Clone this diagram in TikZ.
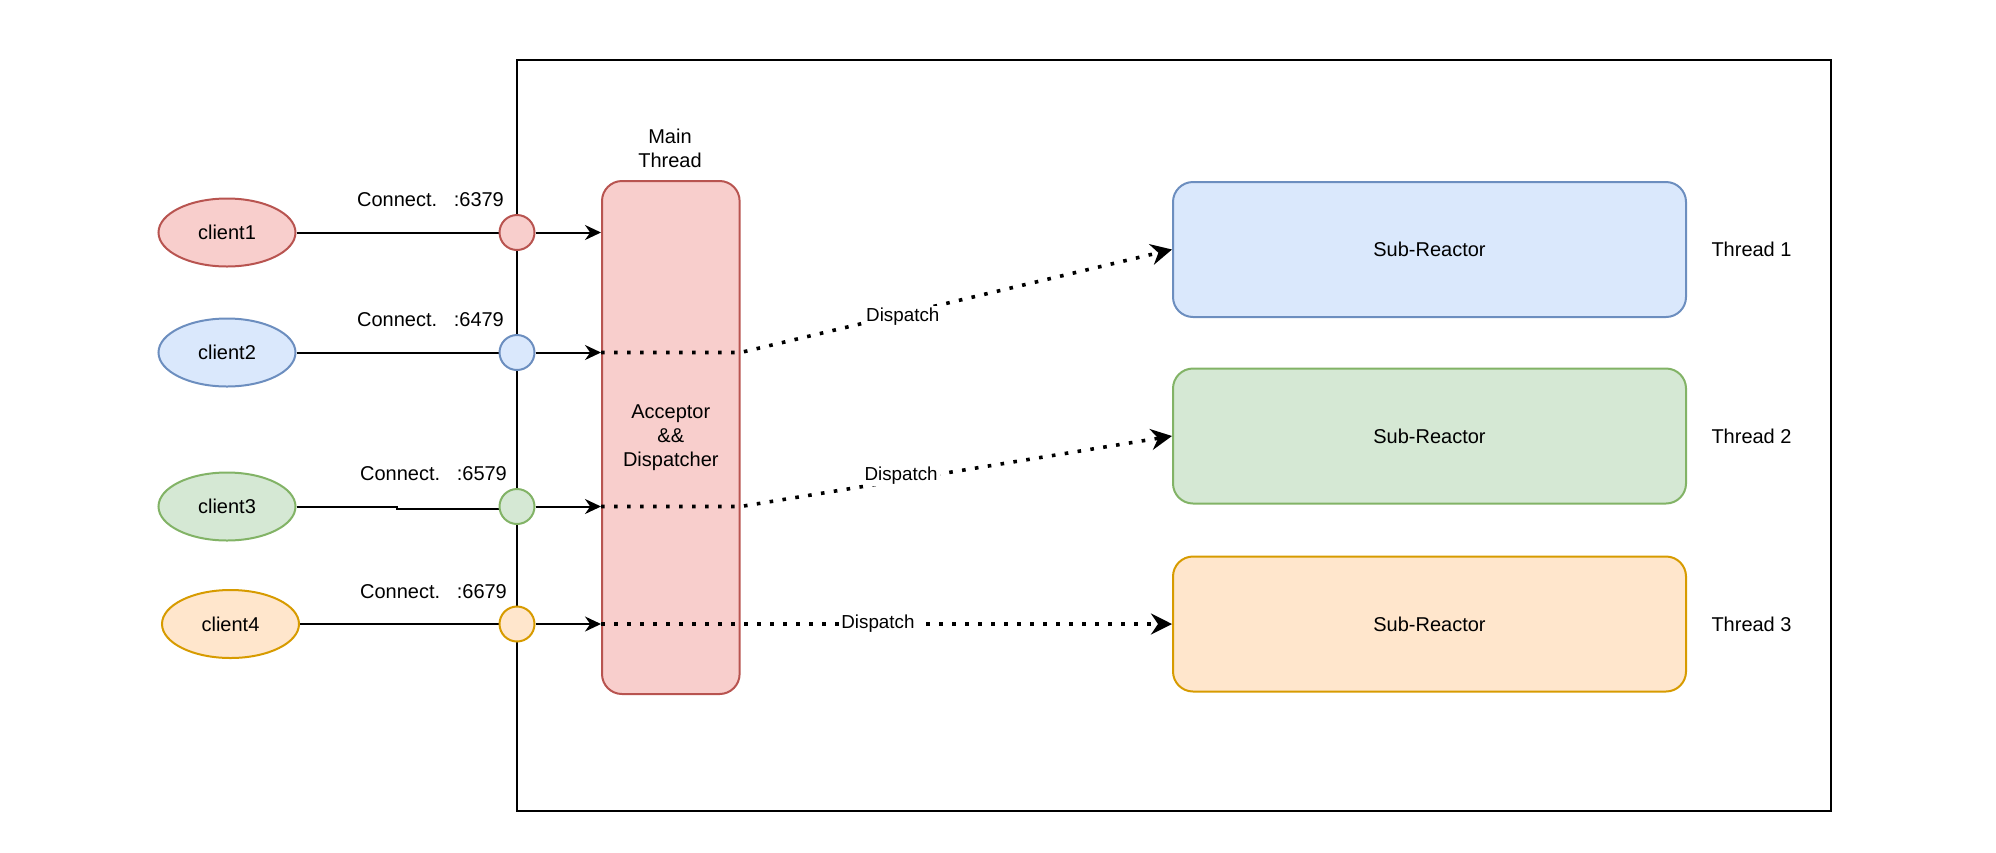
\documentclass[tikz,border=0pt]{standalone}
\usepackage{fontspec}
\setmainfont{Liberation Sans}
\usetikzlibrary{shapes.geometric,arrows.meta}
\definecolor{redF}{HTML}{F8CECC}
\definecolor{redD}{HTML}{B85450}
\definecolor{blueF}{HTML}{DAE8FC}
\definecolor{blueD}{HTML}{6C8EBF}
\definecolor{greenF}{HTML}{D5E8D4}
\definecolor{greenD}{HTML}{82B366}
\definecolor{orangeF}{HTML}{FFE6CC}
\definecolor{orangeD}{HTML}{D79B00}
\begin{document}
\begin{tikzpicture}[x=0.5pt,y=-0.5pt,
  txt/.style={font=\fontsize{10}{12}\selectfont},
  lbl/.style={txt, inner sep=0pt, align=center},
  client/.style={ellipse, txt, draw, line width=1pt, minimum width=68.5pt, minimum height=34pt, inner sep=0pt},
  port/.style={circle, draw, line width=1pt, minimum size=17.5pt, inner sep=0pt},
  conn/.style={line width=1pt, draw=black},
  arr/.style={conn, -{Stealth[length=8pt,width=7.5pt,inset=2.6pt]}},
  disp/.style={line width=1.8pt, dash pattern=on 1.8pt off 4.7pt, -{Stealth[length=10.5pt,width=10.5pt,inset=3.5pt]}},
  displbl/.style={fill=white, font=\fontsize{9.4}{11}\selectfont, inner sep=1pt},
  subbox/.style={rectangle, txt, rounded corners=10pt, draw, line width=1pt, minimum width=256.5pt, minimum height=67.5pt},
  mainbox/.style={rectangle, txt, rounded corners=10pt, draw=redD, fill=redF, line width=1pt, minimum width=68.8pt, minimum height=256.5pt, align=center, inner sep=0pt}
]
\useasboundingbox (0,0) rectangle (1996,852);

% frame
\node[draw, line width=1pt, minimum width=657pt, minimum height=375.75pt, inner sep=0pt] (frame) at (1174,435.25) {};

% clients
\node[client, fill=redF, draw=redD] (cl1) at (227,232.5) {client1};
\node[client, fill=blueF, draw=blueD] (cl2) at (227,352.5) {client2};
\node[client, fill=greenF, draw=greenD] (cl3) at (227,506.5) {client3};
\node[client, fill=orangeF, draw=orangeD] (cl4) at (230.5,624) {client4};

% labels
\node[lbl] (k1) at (430.5,200) {Connect.\ \ \ :6379};
\node[lbl] (k2) at (430.5,320) {Connect.\ \ \ :6479};
\node[lbl] (k3) at (433.5,473.5) {Connect.\ \ \ :6579};
\node[lbl] (k4) at (433.5,591.5) {Connect.\ \ \ :6679};

% main thread
\node[lbl] (mtl) at (670,148) {Main\\Thread};
\node[mainbox] (main) at (670.8,437.5) {Acceptor\\\&\&\\Dispatcher};

% sub reactors
\node[subbox, fill=blueF, draw=blueD] (s1) at (1429.5,249.5) {Sub-Reactor};
\node[subbox, fill=greenF, draw=greenD] (s2) at (1429.5,436) {Sub-Reactor};
\node[subbox, fill=orangeF, draw=orangeD] (s3) at (1429.5,624) {Sub-Reactor};
\node[lbl] (t1) at (1751.5,249.5) {Thread 1};
\node[lbl] (t2) at (1751.5,436) {Thread 2};
\node[lbl] (t3) at (1751.5,624) {Thread 3};

% client connections
\draw[conn] (cl1.east) -- (cl1.east -| frame.west);
\draw[conn] (cl2.east) -- (cl2.east -| frame.west);
\coordinate (j3) at (397,508.5);
\draw[conn] (cl3.east) -| (j3) -- (j3 -| frame.west);
\draw[conn] (cl4.east) -- (cl4.east -| frame.west);

% ports
\node[port, fill=redF, draw=redD] (p1) at (517,232.5) {};
\node[port, fill=blueF, draw=blueD] (p2) at (517,352.5) {};
\node[port, fill=greenF, draw=greenD] (p3) at (517,506.5) {};
\node[port, fill=orangeF, draw=orangeD] (p4) at (517,624) {};

% arrows into main
\draw[arr] (p1.east) -- (p1.east -| main.west);
\draw[arr] (p2.east) -- (p2.east -| main.west);
\draw[arr] (p3.east) -- (p3.east -| main.west);
\draw[arr] (p4.east) -- (p4.east -| main.west);

% dispatch
\draw[disp] (p2 -| main.west) -- (p2 -| main.east) -- (s1.west) node[displbl, pos=0.376, yshift=-1.5pt] {Dispatch};
\draw[disp] (p3 -| main.west) -- (p3 -| main.east) -- (s2.west) node[displbl, pos=0.372, yshift=2.5pt] {Dispatch};
\draw[disp] (p4 -| main.west) -- (s3.west) node[displbl, pos=0.485] {Dispatch};
\end{tikzpicture}
\end{document}
